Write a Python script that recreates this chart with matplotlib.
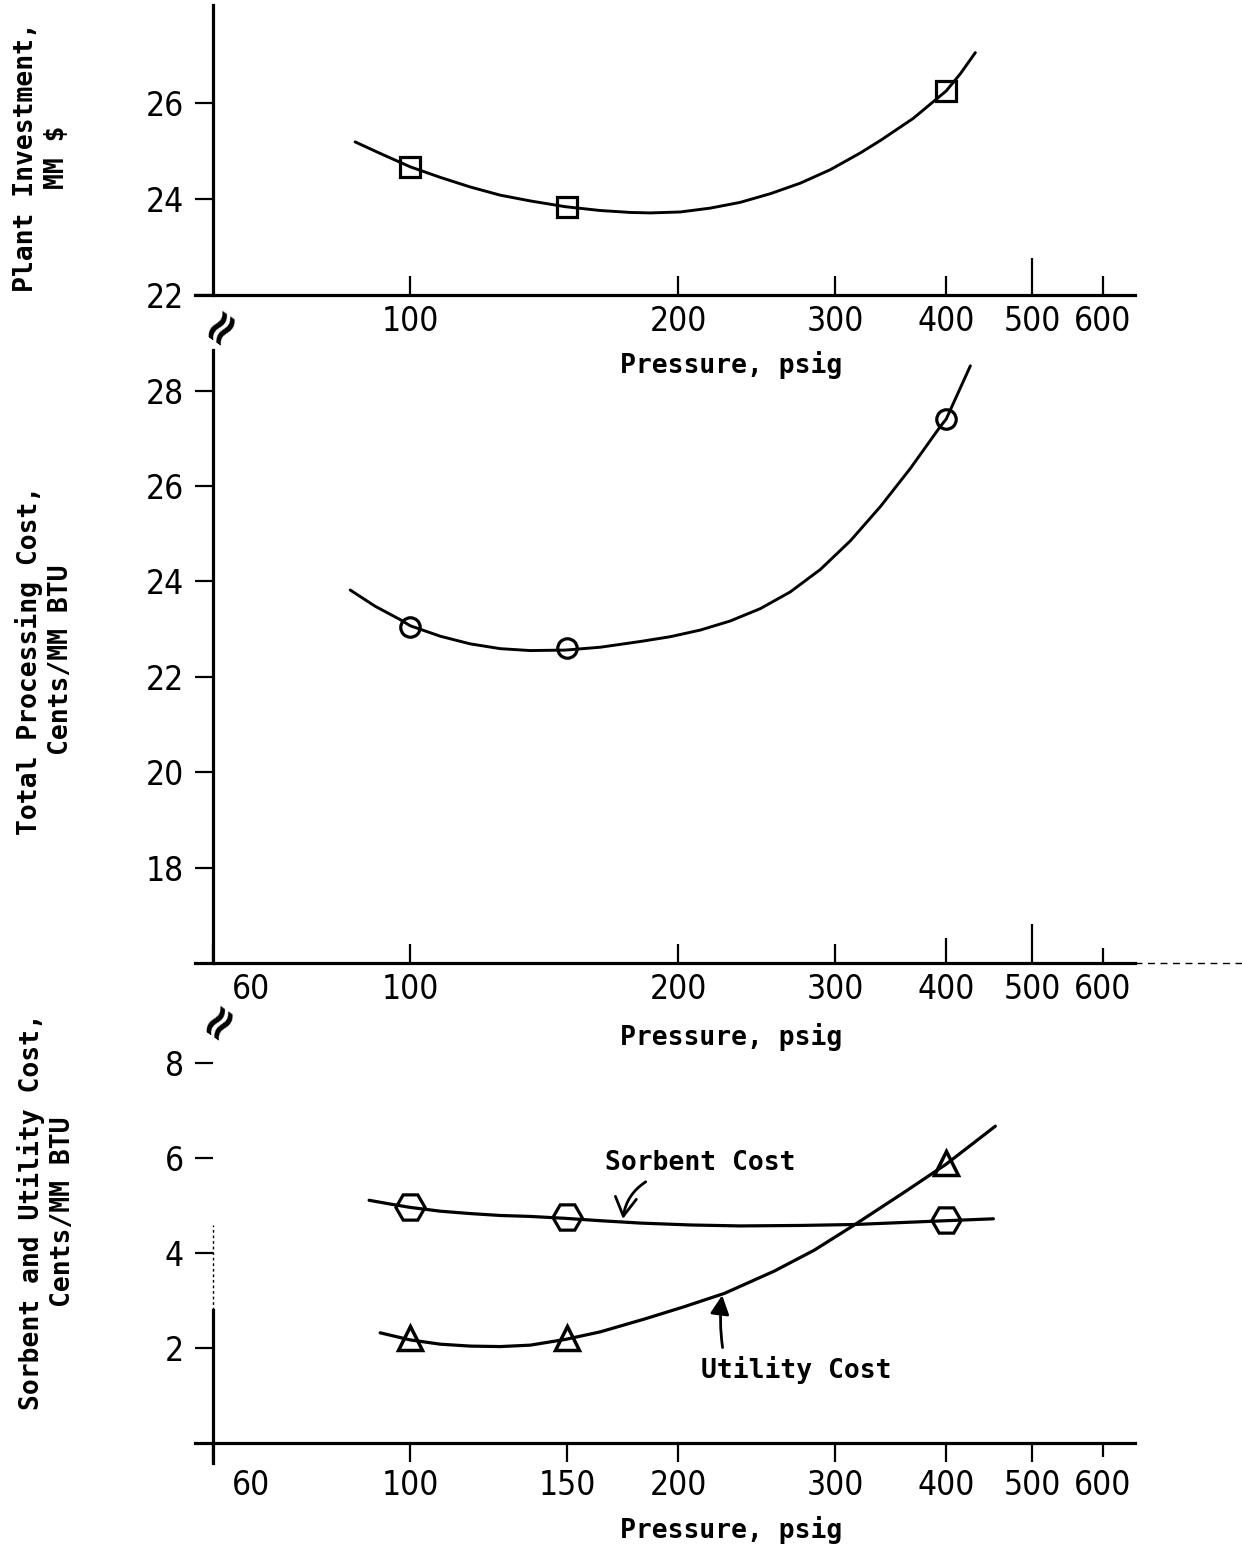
import matplotlib
matplotlib.use("Agg")
import matplotlib.pyplot as plt
import matplotlib.transforms as mtransforms
from matplotlib import font_manager

# ---------------- data ----------------
# Panel 1: Plant investment, MM $
inv_pts_p = [100, 150, 400]
inv_pts_v = [24.67, 23.83, 26.25]
inv_curve_p = [86.7, 92.5, 100, 108.1, 116.8, 126.2, 136.4, 149.3, 163.5, 176.7,
               186.1, 201.1, 217.3, 234.8, 253.8, 274.3, 296.4, 320.4, 337.5, 367.4,
               400, 415.0, 431.4]
inv_curve_v = [25.19, 24.95, 24.67, 24.45, 24.25, 24.08, 23.96, 23.84, 23.76, 23.72,
               23.71, 23.73, 23.81, 23.93, 24.11, 24.33, 24.61, 24.96, 25.22, 25.68,
               26.25, 26.61, 27.05]

# Panel 2: Total processing cost, cents/MM BTU
tpc_pts_p = [100, 150, 400]
tpc_pts_v = [23.04, 22.60, 27.40]
tpc_curve_p = [85.6, 91.3, 97.4, 100, 108.1, 116.8, 126.2, 136.4, 149.3, 163.5,
               181.3, 195.9, 211.8, 228.8, 247.4, 267.3, 288.9, 312.2, 337.5, 364.7,
               394.1, 400, 425.9]
tpc_curve_v = [23.82, 23.48, 23.20, 23.07, 22.85, 22.69, 22.59, 22.55, 22.56, 22.62,
               22.74, 22.84, 22.98, 23.17, 23.43, 23.78, 24.25, 24.85, 25.57, 26.37,
               27.25, 27.40, 28.52]

# Panel 3: Sorbent and utility cost, cents/MM BTU
sorb_pts_p = [100, 150, 400]
sorb_pts_v = [4.96, 4.76, 4.69]
sorb_curve_p = [89.9, 95.0, 100, 108.1, 116.8, 126.2, 136.4, 149.3, 163.5, 181.3,
                206.4, 234.8, 274.3, 315.4, 355.5, 400, 452.0]
sorb_curve_v = [5.11, 5.03, 4.96, 4.88, 4.83, 4.79, 4.77, 4.73, 4.68, 4.63,
                4.59, 4.57, 4.58, 4.60, 4.64, 4.68, 4.72]

util_pts_p = [100, 150, 400]
util_pts_v = [2.21, 2.21, 5.89]
util_curve_p = [92.5, 100, 108.1, 116.8, 126.2, 136.4, 149.3, 163.5, 183.3, 203.2,
                225.4, 256.5, 284.4, 315.4, 359.0, 400, 454.3]
util_curve_v = [2.32, 2.17, 2.08, 2.04, 2.03, 2.06, 2.18, 2.34, 2.61, 2.87,
                3.15, 3.62, 4.06, 4.59, 5.28, 5.87, 6.67]

# tick values / labels
x_ticks_top = [100, 200, 300, 400, 500, 600]
x_labels_top = ["100", "200", "300", "400", "500", "600"]
x_ticks_mid = [60, 100, 200, 300, 400, 500, 600]
x_labels_mid = ["60", "100", "200", "300", "400", "500", "600"]
x_ticks_bot = [60, 100, 150, 200, 300, 400, 500, 600]
x_labels_bot = ["60", "100", "150", "200", "300", "400", "500", "600"]
y_ticks_top = [22, 24, 26]
y_ticks_mid = [18, 20, 22, 24, 26, 28]
y_ticks_bot = [2, 4, 6, 8]

# ---------------- fonts ----------------
def _w(f):
    try:
        return int(f.weight)
    except (TypeError, ValueError):
        return {"normal": 400, "regular": 400, "medium": 500}.get(str(f.weight), 0)


narrow_path = None
cands = [f for f in font_manager.fontManager.ttflist
         if f.style == "normal" and (
             f.name in ("Liberation Sans Narrow", "Roboto Condensed", "Open Sans Condensed",
                        "DejaVu Sans Condensed", "Noto Sans Condensed")
             or (f.name == "DejaVu Sans" and str(f.stretch) in ("condensed", "semi-condensed")))]
for want in (400, 500):
    for f in cands:
        if _w(f) == want:
            narrow_path = f.fname
            break
    if narrow_path:
        break

if narrow_path is not None:
    TICKFP = font_manager.FontProperties(fname=narrow_path, size=24)
else:
    TICKFP = font_manager.FontProperties(family=["Liberation Sans", "DejaVu Sans"], size=20)

MONO = ["DejaVu Sans Mono"]
MONO_W = "bold"

# ---------------- styling ----------------
W, H = 1242, 1547
fig = plt.figure(figsize=(W / 100, H / 100), dpi=100)
fig.patch.set_facecolor("white")

LW = 2.3
XMIN, XMAX = 57.3, 652
SPINE_X = 60


def px2fig(x, y):
    return x / W, 1 - y / H


def make_axes(top_px, bottom_px, ylim_low, px_per_unit):
    left = 195 / W
    width = 940 / W
    bottom = 1 - bottom_px / H
    height = (bottom_px - top_px) / H
    ax = fig.add_axes([left, bottom, width, height])
    ax.set_xscale("log")
    ax.set_xlim(XMIN, XMAX)
    ax.set_ylim(ylim_low, ylim_low + (bottom_px - top_px) / px_per_unit)
    ax.spines["top"].set_visible(False)
    ax.spines["right"].set_visible(False)
    ax.spines["left"].set_position(("data", SPINE_X))
    ax.spines["left"].set_linewidth(LW)
    ax.spines["bottom"].set_linewidth(LW)
    ax.xaxis.set_minor_locator(matplotlib.ticker.NullLocator())
    ax.patch.set_alpha(0)
    return ax


def style_xticks(ax, ticks, labels, direction, lengths=None, length=14):
    ax.set_xticks(ticks)
    ax.set_xticklabels(labels)
    for lab in ax.get_xticklabels():
        lab.set_fontproperties(TICKFP)
    ax.tick_params(axis="x", direction=direction, length=length, width=1.6,
                   pad=7 if direction == "in" else 5)
    if lengths:
        for t, v in zip(ax.xaxis.get_major_ticks(), ticks):
            if v in lengths:
                t.tick1line.set_markersize(lengths[v])


def style_yticks(ax, ticks):
    ax.set_yticks(ticks)
    ax.set_yticklabels([str(t) for t in ticks])
    for lab in ax.get_yticklabels():
        lab.set_fontproperties(TICKFP)
    ax.tick_params(axis="y", direction="out", length=13, width=1.6, pad=8)


def shift_label(ax, text, dx_px):
    off = mtransforms.ScaledTranslation(dx_px / 100, 0, fig.dpi_scale_trans)
    for lab in ax.get_xticklabels():
        if lab.get_text() == text:
            lab.set_transform(lab.get_transform() + off)


# ---------------- Panel 1 ----------------
ax1 = make_axes(5, 295, 22, 48)
ax1.plot(inv_curve_p, inv_curve_v, color="black", lw=2.1, solid_capstyle="round",
         solid_joinstyle="round")
ax1.plot(inv_pts_p, inv_pts_v, linestyle="none", marker="s", ms=15,
         mfc="none", mec="black", mew=2.3)
style_xticks(ax1, x_ticks_top, x_labels_top, "in", lengths={500: 27})
style_yticks(ax1, y_ticks_top)

# ---------------- Panel 2 ----------------
ax2 = make_axes(350, 963, 16, 47.7)
ax2.plot(tpc_curve_p, tpc_curve_v, color="black", lw=2.1, solid_capstyle="round",
         solid_joinstyle="round")
ax2.plot(tpc_pts_p, tpc_pts_v, linestyle="none", marker="o", ms=14,
         mfc="none", mec="black", mew=2.3)
style_xticks(ax2, x_ticks_mid, x_labels_mid, "in", lengths={400: 18, 500: 28, 600: 11})
style_yticks(ax2, y_ticks_mid)
shift_label(ax2, "60", 38)
ax2.plot([1.0, 1.12], [0, 0], transform=ax2.transAxes, color="black", lw=1.0,
         ls=(0, (5, 4)), clip_on=False)

# ---------------- Panel 3 ----------------
ax3 = make_axes(1040, 1443, 0, 47.5)
ax3.plot(sorb_curve_p, sorb_curve_v, color="black", lw=2.3, solid_capstyle="round",
         solid_joinstyle="round")
ax3.plot(util_curve_p, util_curve_v, color="black", lw=2.3, solid_capstyle="round",
         solid_joinstyle="round")
ax3.plot(sorb_pts_p, sorb_pts_v, linestyle="none", marker="H", ms=21,
         mfc="none", mec="black", mew=2.3)
ax3.plot(util_pts_p, util_pts_v, linestyle="none", marker="^", ms=17,
         mfc="none", mec="black", mew=2.5)
style_xticks(ax3, x_ticks_bot, x_labels_bot, "out", lengths={600: 10}, length=14)
style_yticks(ax3, y_ticks_bot)
shift_label(ax3, "60", 38)
ax3.spines["left"].set_bounds(-0.42, 2.8)
ax3.plot([SPINE_X, SPINE_X], [2.8, 4.6], color="black", lw=1.0, ls=(0, (2, 2)))

ax3.annotate("Sorbent Cost", xy=(173.2, 4.66), xytext=(211.8, 5.89),
             ha="center", va="center", fontsize=19, family=MONO, fontweight=MONO_W,
             arrowprops=dict(arrowstyle="->,head_length=0.7,head_width=0.4",
                             color="black", lw=2.0,
                             connectionstyle="arc3,rad=0.3",
                             relpos=(0.27, 0.0), shrinkA=4, shrinkB=2))
ax3.annotate("Utility Cost", xy=(224.2, 3.14), xytext=(271.5, 1.54),
             ha="center", va="center", fontsize=19, family=MONO, fontweight=MONO_W,
             arrowprops=dict(arrowstyle="-|>,head_length=0.6,head_width=0.3",
                             color="black", lw=2.0,
                             connectionstyle="arc3,rad=-0.08",
                             relpos=(0.12, 1.0), shrinkA=4, shrinkB=1))

# ---------------- axis titles ----------------
for ypx in (365, 1037, 1530):
    fx, fy = px2fig(731, ypx)
    fig.text(fx, fy, "Pressure, psig", ha="center", va="center",
             fontsize=19, family=MONO, fontweight=MONO_W)

ylabels = [
    ("Plant Investment,\nMM $", 42, 157),
    ("Total Processing Cost,\nCents/MM BTU", 45, 660),
    ("Sorbent and Utility Cost,\nCents/MM BTU", 47, 1212),
]
for txt, xpx, ypx in ylabels:
    fx, fy = px2fig(xpx, ypx)
    fig.text(fx, fy, txt, rotation=90, ha="center", va="center",
             multialignment="center", linespacing=1.25, fontsize=19,
             family=MONO, fontweight=MONO_W)

# axis-break marks
for xpx, ypx in ((221, 325), (219, 1020)):
    fx, fy = px2fig(xpx, ypx)
    fig.text(fx, fy, "≈", rotation=55, ha="center", va="center",
             fontsize=34, family=["DejaVu Sans"], fontweight="bold")

fig.savefig("out.png", dpi=100, facecolor="white")
